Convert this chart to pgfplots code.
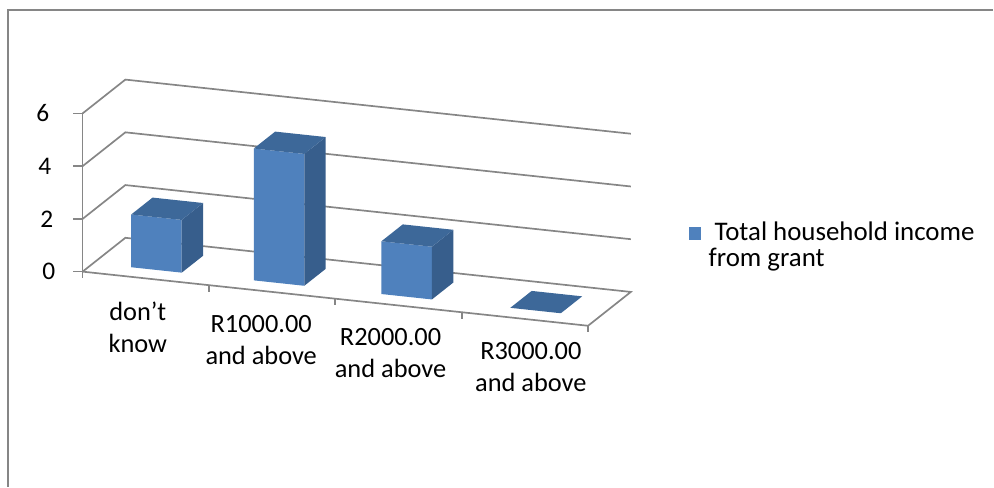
\documentclass[border=0pt]{standalone}
\usepackage{pgfplots}
\pgfplotsset{compat=1.18}
\usepackage{fontspec}
\setmainfont{Carlito}
\definecolor{barfront}{HTML}{4F81BD}
\definecolor{barside}{HTML}{375E8C}
\definecolor{bartop}{HTML}{3D6899}
\definecolor{gridc}{HTML}{868686}
\begin{document}
\begin{tikzpicture}
\begin{axis}[
  x={(127pt,-13.6pt)}, y={(43pt,34pt)}, z={(0pt,26.5pt)},
  xmin=0, xmax=4, ymin=0, ymax=1, zmin=0, zmax=6,
  hide axis, clip=false,
  every axis plot/.append style={mark=none},
]
\coordinate (O) at (axis cs:0,0,0);
% walls and grid lines
\addplot3[gridc, line width=1.7pt] coordinates {(0,0,0) (0,1,0) (4,1,0) (4,0,0) (0,0,0)};
\addplot3[gridc, line width=1.7pt] coordinates {(0,0,2) (0,1,2) (4,1,2)};
\addplot3[gridc, line width=1.7pt] coordinates {(0,0,4) (0,1,4) (4,1,4)};
\addplot3[gridc, line width=1.7pt] coordinates {(0,0,6) (0,1,6) (4,1,6)};
\addplot3[gridc, line width=1.7pt] coordinates {(0,0,0) (0,0,6)};
% category tick marks
\addplot3[gridc, line width=1.7pt] coordinates {(0,0,0) (0,0,-0.25)};
\addplot3[gridc, line width=1.7pt] coordinates {(1,0,0) (1,0,-0.25)};
\addplot3[gridc, line width=1.7pt] coordinates {(2,0,0) (2,0,-0.25)};
\addplot3[gridc, line width=1.7pt] coordinates {(3,0,0) (3,0,-0.25)};
\addplot3[gridc, line width=1.7pt] coordinates {(4,0,0) (4,0,-0.25)};
% value ticks
\draw[gridc, line width=1.7pt] (axis cs:0,0,0) -- ++(-10pt,0pt);
\draw[gridc, line width=1.7pt] (axis cs:0,0,2) -- ++(-10pt,0pt);
\draw[gridc, line width=1.7pt] (axis cs:0,0,4) -- ++(-10pt,0pt);
\draw[gridc, line width=1.7pt] (axis cs:0,0,6) -- ++(-10pt,0pt);
\node[anchor=east, font=\fontsize{25.5}{28}\selectfont] at ([xshift=-24pt]axis cs:0,0,0) {0};
\node[anchor=east, font=\fontsize{25.5}{28}\selectfont] at ([xshift=-26pt]axis cs:0,0,2) {2};
\node[anchor=east, font=\fontsize{25.5}{28}\selectfont] at ([xshift=-28pt]axis cs:0,0,4) {4};
\node[anchor=east, font=\fontsize{25.5}{28}\selectfont] at ([xshift=-30pt]axis cs:0,0,6) {6};
% bar 1: don't know = 2
\addplot3[fill=barfront, draw=none] coordinates {(0.3,0.25,0) (0.7,0.25,0) (0.7,0.25,2) (0.3,0.25,2)} --cycle;
\addplot3[fill=barside, draw=none] coordinates {(0.7,0.25,0) (0.7,0.75,0) (0.7,0.75,2) (0.7,0.25,2)} --cycle;
\addplot3[fill=bartop, draw=none] coordinates {(0.3,0.25,2) (0.7,0.25,2) (0.7,0.75,2) (0.3,0.75,2)} --cycle;
% bar 2: R1000.00 and above = 5
\addplot3[fill=barfront, draw=none] coordinates {(1.27,0.25,0) (1.67,0.25,0) (1.67,0.25,5) (1.27,0.25,5)} --cycle;
\addplot3[fill=barside, draw=none] coordinates {(1.67,0.25,0) (1.67,0.75,0) (1.67,0.75,5) (1.67,0.25,5)} --cycle;
\addplot3[fill=bartop, draw=none] coordinates {(1.27,0.25,5) (1.67,0.25,5) (1.67,0.75,5) (1.27,0.75,5)} --cycle;
% bar 3: R2000.00 and above = 2
\addplot3[fill=barfront, draw=none] coordinates {(2.28,0.25,0) (2.68,0.25,0) (2.68,0.25,2) (2.28,0.25,2)} --cycle;
\addplot3[fill=barside, draw=none] coordinates {(2.68,0.25,0) (2.68,0.75,0) (2.68,0.75,2) (2.68,0.25,2)} --cycle;
\addplot3[fill=bartop, draw=none] coordinates {(2.28,0.25,2) (2.68,0.25,2) (2.68,0.75,2) (2.28,0.75,2)} --cycle;
% bar 4: R3000.00 and above = 0
\addplot3[fill=bartop, draw=none] coordinates {(3.3,0.25,0) (3.7,0.25,0) (3.7,0.75,0) (3.3,0.75,0)} --cycle;
% category labels
\node[anchor=north, align=center, font=\fontsize{26.5}{32}\selectfont] at ([xshift=-8pt,yshift=-20pt]axis cs:0.5,0,0) {don’t\\know};
\node[anchor=north, align=center, font=\fontsize{26.5}{32}\selectfont] at ([xshift=-11pt,yshift=-20pt]axis cs:1.5,0,0) {R1000.00\\and above};
\node[anchor=north, align=center, font=\fontsize{26.5}{32}\selectfont] at ([xshift=-8pt,yshift=-20pt]axis cs:2.5,0,0) {R2000.00\\and above};
\node[anchor=north, align=center, font=\fontsize{26.5}{32}\selectfont] at ([xshift=6pt,yshift=-20pt]axis cs:3.5,0,0) {R3000.00\\and above};
\end{axis}
\pgfresetboundingbox
\begin{scope}[shift={(O)}]
\path (-83pt,273pt) rectangle (911pt,-213pt);
\draw[gridc, line width=2pt] (-75pt,-216pt) -- (-75pt,263pt) -- (915pt,263pt);
\fill[barfront] (609pt,32pt) rectangle (622pt,45pt);
\node[anchor=base west, inner sep=0pt, font=\fontsize{27}{26}\selectfont] at (635pt,31pt) {Total household income};
\node[anchor=base west, inner sep=0pt, font=\fontsize{27}{26}\selectfont] at (629pt,5pt) {from grant};
\end{scope}
\end{tikzpicture}
\end{document}
